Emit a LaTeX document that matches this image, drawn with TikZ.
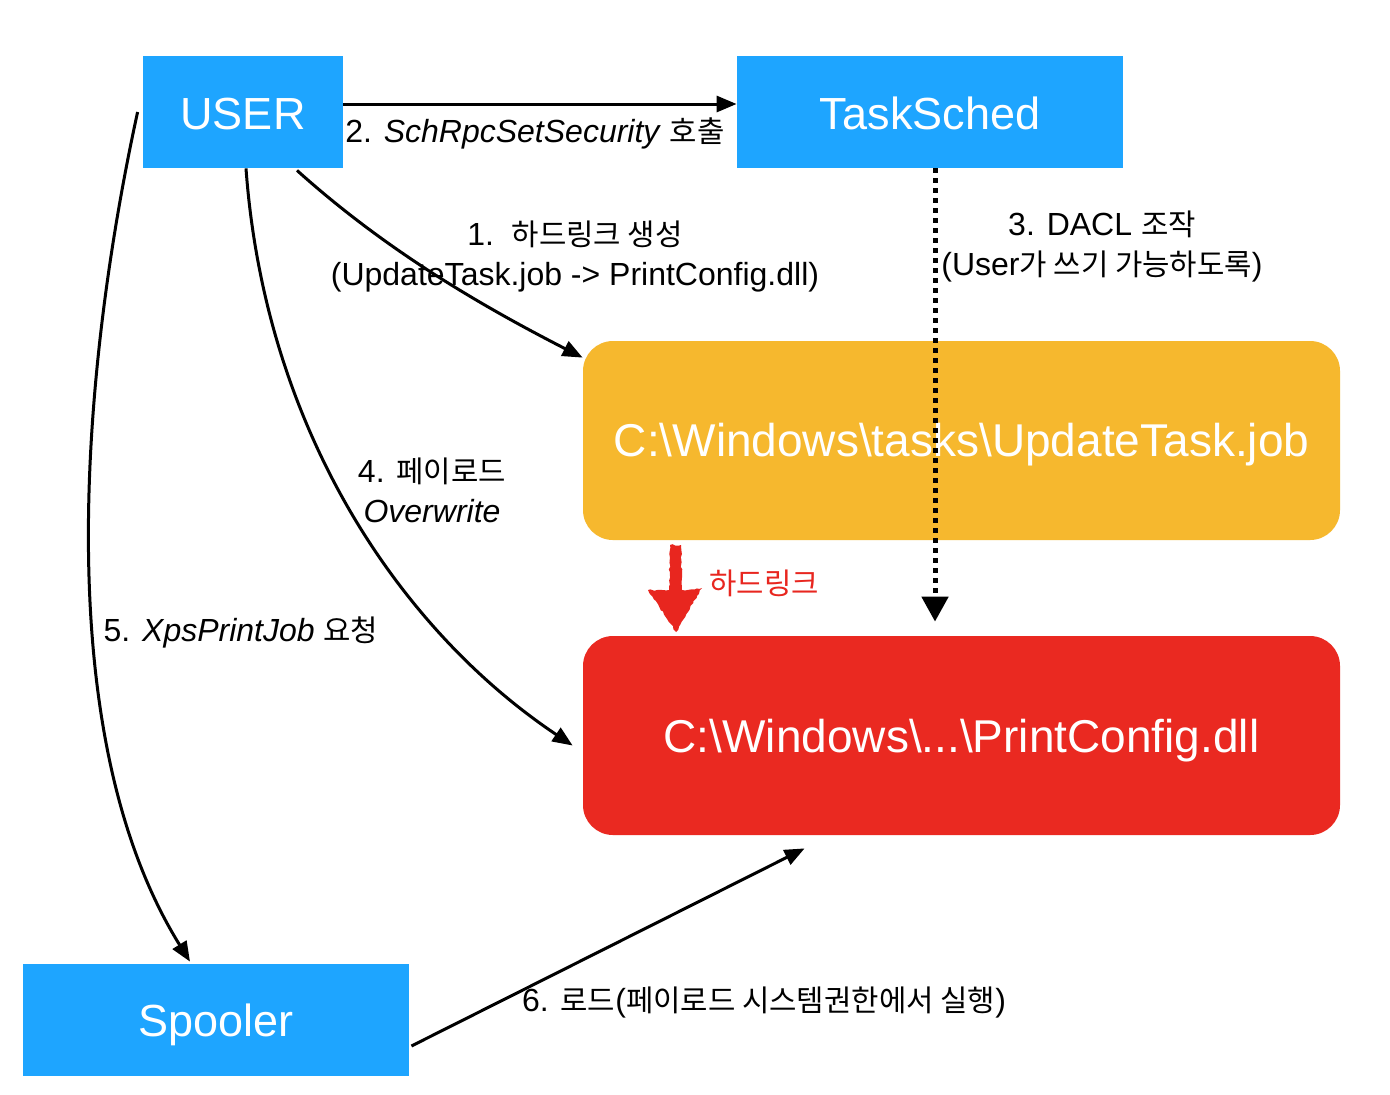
\documentclass[tikz,border=0pt]{standalone}
\usepackage{fontspec}
\setmainfont{Liberation Sans}
\newfontfamily\kr[Scale=0.93]{Noto Sans CJK KR}
\usetikzlibrary{arrows.meta,decorations.pathmorphing,calc}
\definecolor{boxblue}{RGB}{30,165,255}
\definecolor{boxorange}{RGB}{246,184,46}
\definecolor{boxred}{RGB}{234,41,33}
\definecolor{hlred}{RGB}{232,38,31}
\newcommand{\boxtxt}[2]{\raisebox{-#1}[0pt][0pt]{#2}}
\begin{document}
\begin{tikzpicture}[x=0.5pt,y=-0.5pt,
 bluebox/.style={fill=boxblue, text=white, minimum height=56pt, inner sep=0pt, font=\fontsize{22.5}{27}\selectfont},
 filebox/.style={rounded corners=15pt, text=white, minimum width=378.5pt, minimum height=99.5pt, inner sep=0pt, font=\fontsize{23}{28}\selectfont},
 conn/.style={line width=1.5pt, -{Triangle[length=10pt,width=8pt]}},
 dotconn/.style={line width=2.5pt, dash pattern=on 2.5pt off 2.5pt, -{Triangle[length=12.5pt,width=13pt]}},
 lbl/.style={font=\fontsize{16}{20}\selectfont, align=center, inner sep=0pt},
]
\useasboundingbox[fill=white] (0,0) rectangle (1390,1094);

\node[bluebox, minimum width=100pt] (user) at (243,112) {\boxtxt{8.8pt}{USER}};
\node[bluebox, minimum width=193pt] (task) at (930,112) {\boxtxt{8.8pt}{TaskSched}};
\node[filebox, fill=boxorange] (job) at (961.5,440.5) {\boxtxt{8pt}{C:\textbackslash Windows\textbackslash tasks\textbackslash UpdateTask.job}};
\node[filebox, fill=boxred] (dll) at (961.5,735.5) {\boxtxt{8.3pt}{C:\textbackslash Windows\textbackslash ...\textbackslash PrintConfig.dll}};
\node[bluebox, minimum width=193pt] (spool) at (216,1020) {\boxtxt{8pt}{Spooler}};

% connectors
\draw[conn] ($(user.east)+(0,-8)$) -- ($(task.west)+(0,-8)$);
\draw[conn] ($(user.south)+(54,2)$) .. controls (380,245) and (470,300) .. ($(job.north west)+(0,17)$);
\draw[conn] ($(user.south)+(3,0)$) .. controls (265,430) and (400,630) .. ($(dll.west)+(-10,10)$);
\draw[conn] ($(user.west)+(-5,0)$) .. controls (90,330) and (40,720) .. ($(spool.north)+(-26,-2)$);
\draw[conn] ($(spool.east)+(2,26)$) -- ($(dll.south west)+(222,13)$);
\draw[dotconn] ($(task.south)+(5,0)$) -- ($(dll.north)+(-26.5,-14)$);

% hand-drawn red arrow
\fill[hlred, decorate, decoration={random steps, segment length=1.5pt, amplitude=0.4pt}]
  (670,545) -- (681,545) -- (682,590) -- (702,588) -- (676,632) -- (648,590) -- (669,590) -- cycle;

% labels
\node[lbl] (l2) at (535,133) {2. \textit{SchRpcSetSecurity} {\kr 호출}};
\node[lbl] (l1) at (575,257) {1.\ \ {\kr 하드링크 생성}\\(UpdateTask.job -> PrintConfig.dll)};
\node[lbl] (l3) at (1102,246) {3. DACL {\kr 조작}\\(User{\kr 가 쓰기 가능하도록})};
\node[lbl] (l4) at (432,490) {4. {\kr 페이로드}\\\textit{Overwrite}};
\node[lbl] (l5) at (241,632) {5. \textit{XpsPrintJob} {\kr 요청}};
\node[lbl] (l6) at (764,1002) {6. {\kr 로드}({\kr 페이로드 시스템권한에서 실행})};
\node[lbl, text=hlred] (lh) at (764,583) {\kr 하드링크};
\end{tikzpicture}
\end{document}
